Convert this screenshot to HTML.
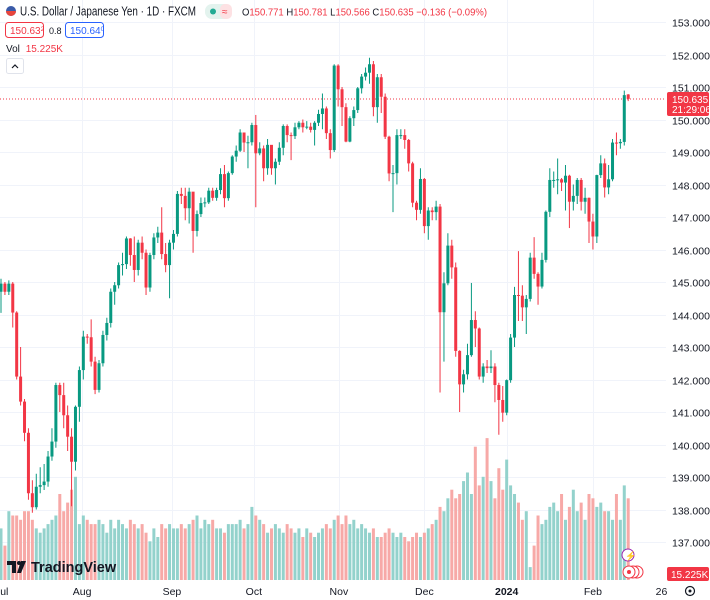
<!DOCTYPE html>
<html><head><meta charset="utf-8"><style>
html,body{margin:0;padding:0;background:#fff;width:710px;height:600px;overflow:hidden;font-family:"Liberation Sans",sans-serif;}
svg{display:block}
</style></head><body>
<svg id="chart" width="710" height="600" xmlns="http://www.w3.org/2000/svg">
<g id="grid"></g>
<g id="vol"></g>
<line x1="0" x2="666" y1="99" y2="99" stroke="#f23645" stroke-width="1" stroke-dasharray="1,2"/>
<g id="candles"></g>
<g id="yaxis"></g>
<g id="xaxis"></g>
<g>
  <circle cx="11" cy="11" r="5" fill="#3a5ba8"/>
  <path d="M6 11 A5 5 0 0 0 16 11 Z" fill="#e8453c"/>
  <text x="20" y="15.5" fill="#131722" font-size="12.5" textLength="176" lengthAdjust="spacingAndGlyphs">U.S. Dollar / Japanese Yen · 1D · FXCM</text>
  <rect x="205" y="4" width="27" height="15" rx="7" fill="#e3f3ee"/>
  <circle cx="213" cy="11.5" r="3" fill="#22ab94"/>
  <rect x="220" y="4" width="12" height="15" rx="5" fill="#fde1e3"/>
  <text x="222" y="15" font-size="10" fill="#f23645">≈</text>
  <text x="242" y="15.5" font-size="10.5" fill="#f23645" textLength="245" lengthAdjust="spacingAndGlyphs"><tspan fill="#131722">O</tspan>150.771 <tspan fill="#131722">H</tspan>150.781 <tspan fill="#131722">L</tspan>150.566 <tspan fill="#131722">C</tspan>150.635 −0.136 (−0.09%)</text>
  <rect x="5.5" y="22.5" width="38" height="15" rx="3" fill="#fff" stroke="#f23645"/>
  <text x="10" y="34" font-size="10" fill="#f23645">150.63<tspan font-size="6.5" dy="-3">2</tspan></text>
  <text x="49" y="34" font-size="9" fill="#131722">0.8</text>
  <rect x="65.5" y="22.5" width="38" height="15" rx="3" fill="#fff" stroke="#2962ff"/>
  <text x="70" y="34" font-size="10" fill="#2962ff">150.64<tspan font-size="6.5" dy="-3">0</tspan></text>
  <text x="6" y="52" font-size="10" fill="#131722">Vol <tspan fill="#f23645" dx="3">15.225K</tspan></text>
  <rect x="6.5" y="58.5" width="17" height="15" rx="2" fill="#fff" stroke="#e0e3eb"/>
  <path d="M12 68 L15 65 L18 68" fill="none" stroke="#131722" stroke-width="1.2"/>
</g>
<g>
  <path d="M7 561 h9 v12 h-4 v-8 h-5 z" fill="#131722"/>
  <circle cx="19" cy="563" r="2" fill="#131722"/>
  <path d="M21 561 h5 l-5 12 h-4 z" fill="#131722"/>
  <text x="31" y="572" font-size="14.5" font-weight="bold" fill="#131722">TradingView</text>
</g>
<g>
  <circle cx="628" cy="555" r="6" fill="#fff" stroke="#9c27b0"/>
  <text x="625" y="559" font-size="9" fill="#9c27b0">⚡</text>
  <circle cx="637" cy="572" r="6" fill="#fff" stroke="#f23645"/>
  <circle cx="633" cy="572" r="6" fill="#fff" stroke="#f23645"/>
  <circle cx="629" cy="572" r="6" fill="#fff" stroke="#f23645"/>
  <circle cx="629" cy="572" r="2" fill="#f23645"/>
</g>
<g>
  <rect x="667" y="92" width="42" height="24" rx="2" fill="#f23645"/>
  <text x="672" y="103" font-size="10" fill="#fff">150.635</text>
  <text x="672" y="113" font-size="10" fill="#fff">21:29:06</text>
</g>
<g>
  <rect x="667" y="567" width="42" height="14" rx="2" fill="#f23645"/>
  <text x="671" y="578" font-size="10" fill="#fff">15.225K</text>
</g>
<g>
  <circle cx="690" cy="591" r="4.5" fill="none" stroke="#131722" stroke-width="1.2"/>
  <circle cx="690" cy="591" r="1.5" fill="#131722"/>
</g>
</svg>
<script>
const closes=[144.95,144.7,144.95,144.06,142.09,141.32,140.36,138.5,138.07,138.7,138.75,138.86,139.63,140.09,141.83,141.52,140.9,140.24,139.47,141.16,142.29,143.32,143.3,142.55,141.68,142.5,143.37,143.74,144.70,144.9,145.52,145.55,146.34,145.83,145.37,146.21,145.9,144.83,145.83,146.37,146.52,145.86,145.52,
146.21,146.48,147.71,147.65,147.27,147.78,146.57,147.09,147.43,147.45,147.81,147.59,147.83,148.32,147.58,148.35,148.86,149.04,149.6,149.29,149.3,149.83,148.96,149.11,148.5,149.22,148.5,148.7,149.13,149.8,149.52,149.49,149.76,149.9,149.76,149.78,149.68,149.9,150.17,150.34,149.58,149.06,
151.66,150.93,150.38,149.32,150.04,150.29,150.96,151.32,151.44,151.7,150.38,151.3,150.7,149.47,148.34,148.35,149.52,149.52,149.37,148.65,147.44,147.22,148.17,146.72,147.2,147.15,147.32,144.07,144.96,146.12,145.45,142.88,141.85,142.16,142.75,143.83,143.57,142.09,142.4,142.35,142.4,
141.83,141.37,140.98,141.98,143.29,144.6,144.58,144.22,144.48,145.75,145.25,144.86,145.68,147.16,148.14,148.14,148.16,148.06,148.27,147.47,147.65,148.14,147.47,147.59,146.86,146.4,148.29,148.65,147.91,148.16,149.29,149.27,149.31,150.75,150.635];
const highs=[145.1,145.0,145.05,145.0,144.1,143.0,141.4,140.5,138.9,139.1,139.3,139.4,139.8,140.5,141.9,141.9,141.9,141.2,140.5,141.2,142.4,143.5,143.4,143.85,142.7,142.6,143.5,143.9,144.8,145.0,145.6,145.9,146.4,146.35,146.4,146.3,146.4,146.0,145.9,146.5,146.7,147.3,146.2,
146.3,146.6,147.8,147.9,147.9,147.9,147.2,147.2,147.6,147.6,147.9,147.9,147.9,148.5,148.6,148.4,148.9,149.2,149.7,149.6,149.5,149.9,150.14,149.3,149.2,149.4,149.2,148.8,149.3,149.85,149.85,149.6,149.9,149.95,150.0,149.95,149.9,149.95,150.3,150.8,150.4,149.7,
151.7,151.7,151.0,150.5,150.1,150.4,151.0,151.4,151.6,151.9,151.8,151.4,151.4,150.8,149.5,148.6,149.7,149.7,149.7,149.4,148.7,147.5,148.5,148.2,147.3,147.3,147.5,147.4,145.3,146.5,146.3,145.6,142.9,142.3,143.1,144.97,144.1,143.6,142.5,142.6,142.9,
142.5,141.9,141.8,142.0,143.4,144.85,145.95,144.9,144.6,145.9,146.38,145.3,145.9,147.2,148.5,148.4,148.8,148.2,148.6,148.3,148.0,148.2,148.2,147.9,147.6,147.1,148.3,148.9,148.8,148.6,149.4,149.6,149.4,150.89,150.781];
const lows=[144.05,144.6,144.6,143.6,142.0,141.2,140.1,138.3,137.9,138.0,138.5,138.6,138.7,139.5,139.9,141.0,140.5,139.8,138.1,139.2,140.7,142.0,143.1,142.4,141.55,141.6,142.4,143.2,143.6,144.3,144.8,145.2,145.4,145.5,145.0,145.2,145.7,144.6,144.7,145.7,146.2,145.7,145.3,
144.5,146.0,146.4,147.4,146.9,146.8,145.9,146.4,147.0,147.3,147.4,147.5,147.5,147.7,147.3,147.5,148.3,148.7,149.0,149.0,148.5,149.2,147.3,148.9,148.1,148.3,148.3,148.0,148.6,148.9,149.3,148.75,149.4,149.7,149.6,149.7,149.6,149.2,149.8,149.7,149.4,148.8,
149.0,150.4,149.8,149.3,149.3,149.8,150.2,150.8,151.2,151.1,150.1,149.9,150.2,149.4,148.1,147.15,148.0,149.4,149.1,148.4,147.3,146.9,147.1,146.5,146.3,146.9,146.9,141.6,142.55,144.9,145.1,142.7,141.0,141.6,142.0,142.7,143.0,142.0,141.9,142.2,142.2,
141.3,140.3,140.7,140.9,141.9,143.0,143.8,143.8,143.4,144.4,145.1,144.3,144.8,145.6,147.0,147.9,147.7,147.8,147.2,146.66,147.2,147.4,147.2,147.1,146.2,146.0,146.2,148.2,147.6,147.7,148.1,148.9,149.1,149.2,150.566];
const volumes=[12,8,16,15,15,14,16,16,14,12,11,12,13,14,15,20,16,18,21,24,13,15,14,13,13,14,13,11,14,12,14,13,12,14,13,12,13,11,9,12,10,13,12,
13,12,12,13,12,13,14,15,12,14,13,14,12,12,11,13,13,13,14,12,13,17,15,14,13,11,12,13,12,11,13,12,11,12,10,12,11,10,11,12,13,12,
14,15,13,15,13,14,12,13,12,11,12,10,10,11,12,11,10,11,10,9,10,11,10,11,12,13,14,17,16,19,21,19,20,23,25,20,31,22,24,33,23,19,26,21,28,22,20,18,14,16,3,
8,15,13,14,17,18,16,20,14,17,21,16,18,14,20,19,17,18,16,16,14,20,14,22,19,18,17,16,32,15,15.225];
const yTicks=[153,152,151,150,149,148,147,146,145,144,143,142,141,140,139,138,137];
const monthLabels=["ul","Aug","Sep","Oct","Nov","Dec","2024","Feb","26"];
const monthIdx=[-0.2,20.7,43.6,64.5,86.2,108,129,151,168.5];

const NS="http://www.w3.org/2000/svg";
const PLOT_W=666,PLOT_B=580;
const X0=1,STEP=3.92;
function xAt(i){return X0+i*STEP;}
function yPrice(p){return 22+(153-p)*32.5;}
function hVol(v){return v*4.3;}
function mk(tag,attrs,parent){const e=document.createElementNS(NS,tag);for(const k in attrs)e.setAttribute(k,attrs[k]);parent.appendChild(e);return e;}
const grid=document.getElementById('grid'),yax=document.getElementById('yaxis'),xax=document.getElementById('xaxis');
yTicks.forEach(t=>{
  const y=Math.round(yPrice(t))+0.5;
  const l=mk('line',{x1:0,x2:PLOT_W,y1:y,y2:y,stroke:'#f0f3fa'},grid);
  
  
  const tx=mk('text',{x:672,y:y+4,'font-size':'10.5',fill:'#131722'},yax);
  tx.textContent=t.toFixed(3);
  
  
});
monthLabels.forEach((m,k)=>{
  const x=xAt(monthIdx[k]);
  if(k>0&&k<monthLabels.length-1){
    const l=mk('line',{x1:Math.round(x)+0.5,x2:Math.round(x)+0.5,y1:0,y2:PLOT_B,stroke:'#f0f3fa'},grid);
    
    
  }
  const tx=mk('text',{x:x,y:595,'font-size':'10.5',fill:'#131722','text-anchor':k==0?'start':'middle','font-weight':m=='2024'?'bold':'normal'},xax);
  tx.textContent=m;
  
  
});
const vg=document.getElementById('vol'),cg=document.getElementById('candles');
closes.forEach((c,i)=>{
  const o=i==0?144.7:(i==closes.length-1?150.771:closes[i-1]);
  const up=c>=o;
  const x=xAt(i);
  const h=hVol(volumes[i]);
  const vb=mk('rect',{x:x-1.5,y:PLOT_B-h,width:3,height:h,fill:up?'#93d2cc':'#f7a9a7'},vg);
  
  
  const col=up?'#089981':'#f23645';
  const w=mk('line',{x1:x,x2:x,y1:yPrice(highs[i]),y2:yPrice(lows[i]),stroke:col,'stroke-width':1},cg);
  
  
  const top=yPrice(Math.max(o,c)),bot=yPrice(Math.min(o,c));
  const b=mk('rect',{x:x-1.5,y:top,width:3,height:Math.max(1,bot-top),fill:col},cg);
  
  
});
</script>
</body></html>
